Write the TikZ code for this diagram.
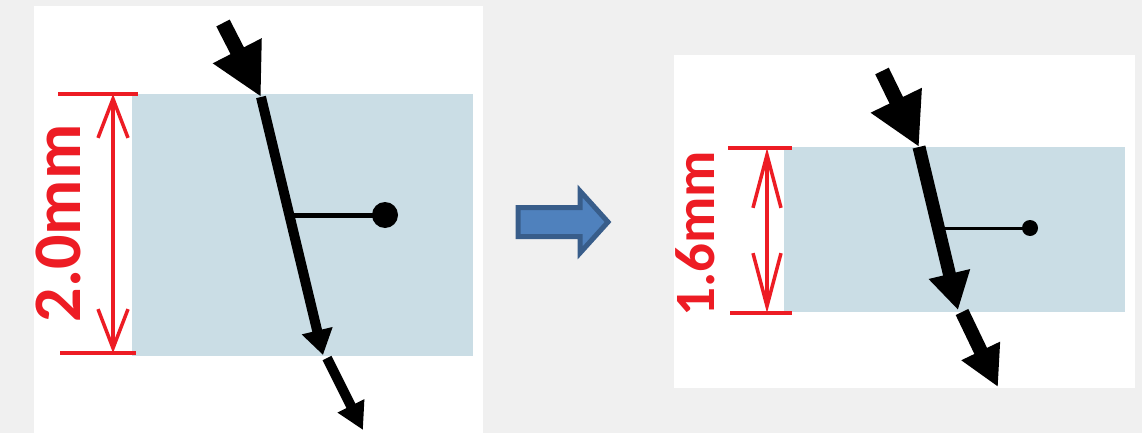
\documentclass[tikz,border=0pt]{standalone}
\usepackage{fontspec}
\setmainfont{Carlito}
\usetikzlibrary{arrows.meta}
\definecolor{pagebg}{HTML}{F0F0F0}
\definecolor{layer}{HTML}{CADDE5}
\definecolor{dimred}{HTML}{ED1C24}
\definecolor{blockfill}{HTML}{4F81BD}
\definecolor{blockline}{HTML}{385D8A}
\tikzset{
  panel/.style={fill=white, draw=none},
  slab/.style={fill=layer, draw=none},
  dimline/.style={draw=dimred, line width=3.5pt},
  dimtext/.style={text=dimred, font=\bfseries\fontsize{#1}{#1}\selectfont, rotate=90, inner sep=0pt},
  ray/.style={draw=black, line width=#1},
  probe/.style={draw=black, line width=#1},
  tipdot/.style={fill=black, draw=none, circle, inner sep=0pt, minimum size=#1},
}
\begin{document}
\begin{tikzpicture}[x=1pt, y=-1pt]
  \useasboundingbox (0,0) rectangle (1142,433);
  \fill[pagebg] (0,0) rectangle (1142,433);

  % ---------- left panel: 2.0 mm layer ----------
  \fill[panel] (34,6) rectangle (483,433);
  \fill[slab] (132,94) rectangle (473,356);

  % thickness dimension
  \coordinate (Lt1) at (58,94);   \coordinate (Lt2) at (138,94);
  \coordinate (Lb1) at (60,353);  \coordinate (Lb2) at (136,353);
  \coordinate (Lda) at (113,94);  \coordinate (Ldb) at (113,353);
  \draw[dimline] (Lt1) -- (Lt2);
  \draw[dimline] (Lb1) -- (Lb2);
  \draw[dimline, {Straight Barb[length=39pt,width=30pt]}-{Straight Barb[length=39pt,width=30pt]}] (Lda) -- (Ldb);
  \node[dimtext=68] (Llab) at (58.5,223.5) {2.0mm};

  % beam path
  \coordinate (La) at (223,23);
  \coordinate (Lb) at (261,97);
  \coordinate (Lc) at (323,355);
  \coordinate (Ld) at (327,358);
  \coordinate (Le) at (363,430);
  \draw[ray=15pt, -{Triangle[length=52pt,width=51pt]}] (La) -- (Lb);
  \draw[ray=10pt, -{Triangle[length=25pt,width=30pt]}] (Lb) -- (Lc);
  \draw[ray=10pt, -{Triangle[length=27pt,width=28pt]}] (Ld) -- (Le);

  % probe
  \coordinate (Lp) at (290,215);
  \node[tipdot=26pt] (Ldot) at (385,215) {};
  \draw[probe=5pt] (Lp) -- (Ldot.center);

  % ---------- transition arrow ----------
  \draw[fill=blockfill, draw=blockline, line width=5pt, line join=miter]
    (518,207.5) -- (580,207.5) -- (580,191) -- (608,222) -- (580,253) -- (580,236.5) -- (518,236.5) -- cycle;

  % ---------- right panel: 1.6 mm layer ----------
  \fill[panel] (674,55) rectangle (1135,388);
  \fill[slab] (784,147) rectangle (1125,312);

  \coordinate (Rt1) at (728,148);  \coordinate (Rt2) at (792,148);
  \coordinate (Rb1) at (730,313);  \coordinate (Rb2) at (792,313);
  \coordinate (Rda) at (767,148);  \coordinate (Rdb) at (767,313);
  \draw[dimline] (Rt1) -- (Rt2);
  \draw[dimline] (Rb1) -- (Rb2);
  \draw[dimline, {Straight Barb[length=53pt,width=28pt]}-{Straight Barb[length=53pt,width=28pt]}] (Rda) -- (Rdb);
  \node[dimtext=57] (Rlab) at (695,233.5) {1.6mm};

  \coordinate (Ra) at (882,71);
  \coordinate (Rb) at (919,147);
  \coordinate (Rc) at (958,310);
  \coordinate (Rd) at (962,312);
  \coordinate (Re) at (998,387);
  \draw[ray=15pt, -{Triangle[length=52pt,width=53pt]}] (Ra) -- (Rb);
  \draw[ray=13pt, -{Triangle[length=37pt,width=40pt]}] (Rb) -- (Rc);
  \draw[ray=14pt, -{Triangle[length=40pt,width=40pt]}] (Rd) -- (Re);

  \coordinate (Rp) at (938,228);
  \node[tipdot=16pt] (Rdot) at (1030,228) {};
  \draw[probe=3pt] (Rp) -- (Rdot.center);
\end{tikzpicture}
\end{document}
